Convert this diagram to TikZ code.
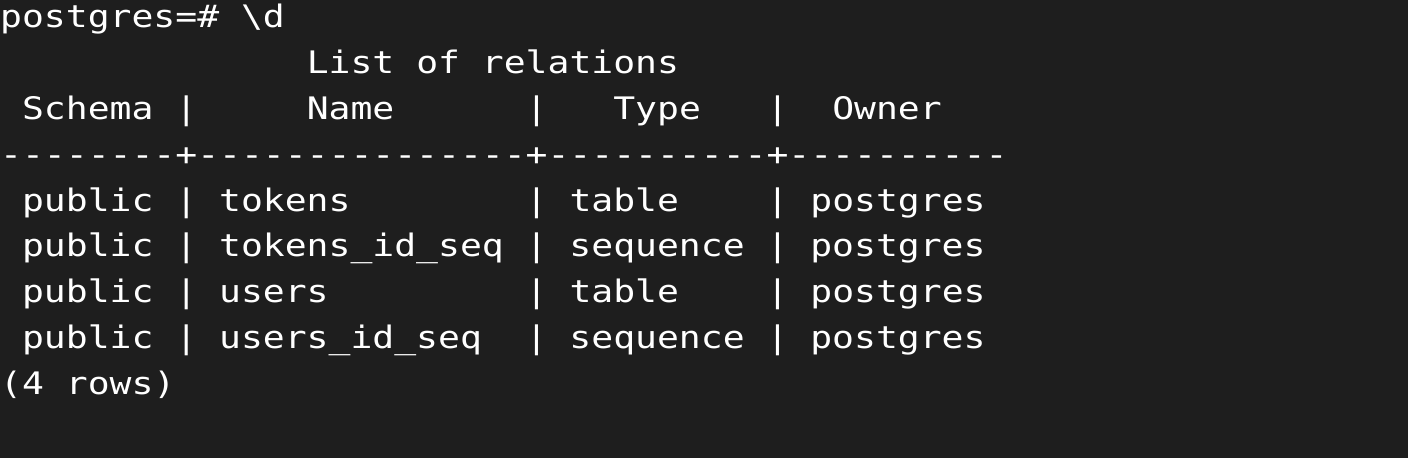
\documentclass[tikz,border=0pt]{standalone}
\usepackage{fontspec}
\setmonofont[FakeStretch=1.1733]{DejaVu Sans Mono}
\usepackage{tikz}
\definecolor{termbg}{RGB}{30,30,30}
\tikzset{term/.style={anchor=base west, inner sep=0pt, text=white,
font=\ttfamily\fontsize{31pt}{46pt}\selectfont}}

\begin{document}
\begin{tikzpicture}
        \path[use as bounding box, fill=termbg] (0pt, 0pt) rectangle (1408pt, 458pt);

        \node[term] (prompt) at (0pt, 430pt) {postgres=\#~\textbackslash d};
        \node[term] (title) at (0pt, 384.2pt) {~~~~~~~~~~~~~~List~of~relations};
        \node[term] (header) at (0pt, 338.4pt) {~Schema~|~~~~~Name~~~~~~|~~~Type~~~|~~Owner};
        \node[term] (rule) at (0pt, 292.6pt) {--------+---------------+----------+----------};
        \node[term] (row1) at (0pt, 246.8pt) {~public~|~tokens~~~~~~~~|~table~~~~|~postgres};
        \node[term] (row2) at (0pt, 201pt) {~public~|~tokens\_id\_seq~|~sequence~|~postgres};
        \node[term] (row3) at (0pt, 155.2pt) {~public~|~users~~~~~~~~~|~table~~~~|~postgres};
        \node[term] (row4) at (0pt, 109.4pt) {~public~|~users\_id\_seq~~|~sequence~|~postgres};
        \node[term] (footer) at (0pt, 63.6pt) {(4~rows)};
    \end{tikzpicture}
\end{document}
